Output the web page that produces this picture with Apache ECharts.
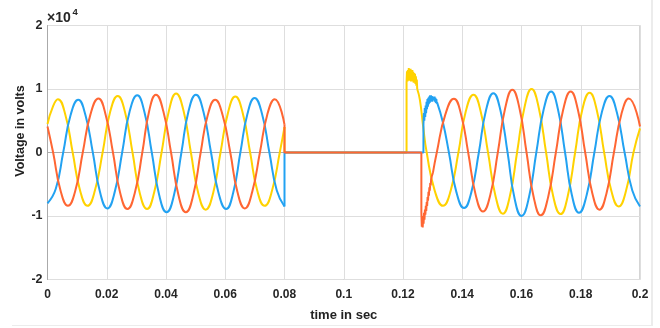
<!DOCTYPE html>
<html>
<head>
<meta charset="utf-8">
<script src="https://cdn.jsdelivr.net/npm/echarts@6/dist/echarts.min.js"></script>
<style>
html,body{margin:0;padding:0;background:#fff;}
#c{width:660px;height:328px;}
</style>
</head>
<body>
<div id="c"></div>
<script>
// ---- data (time in s, voltage in units of 1e4 V) ----
const xTickLabels = ['0','0.02','0.04','0.06','0.08','0.1','0.12','0.14','0.16','0.18','0.2'];
const yTickLabels = ['-2','-1','0','1','2'];

// Phase A (yellow), digitised about every 1/8 cycle, before the outage
const yellowA = [[0,0.45],[0.0018,0.72],[0.0035,0.84],[0.006,0.6],[0.0085,0],[0.011,-0.6],[0.0135,-0.84],[0.016,-0.6],[0.0186,0],[0.0211,0.63],[0.0237,0.89],[0.0262,0.63],[0.0287,0],[0.0311,-0.63],[0.0336,-0.89],[0.036,-0.63],[0.0385,0],[0.041,0.66],[0.0434,0.93],[0.0459,0.66],[0.0484,0],[0.0509,-0.64],[0.0534,-0.9],[0.0559,-0.64],[0.0584,0],[0.0609,0.62],[0.0634,0.88],[0.0659,0.62],[0.0684,0],[0.0708,-0.6],[0.0733,-0.84],[0.0758,-0.6],[0.0784,0],[0.08,0.4]];
// outage + reclosing surge
const yellowSurge = [[0.08,0.4],[0.08,0],[0.1212,0],[0.1212,1.1],[0.12135,1.28],[0.1215,1.12],[0.12165,1.3],[0.1218,1.15],[0.12195,1.33],[0.1221,1.13],[0.12225,1.3],[0.1224,1.17],[0.12255,1.32],[0.1227,1.12],[0.12285,1.28],[0.123,1.15],[0.12315,1.3],[0.1233,1.12],[0.12345,1.27],[0.1236,1.1],[0.12375,1.25],[0.1239,1.12],[0.12405,1.24],[0.1242,1.08],[0.12435,1.2],[0.1245,1.05],[0.12465,1.15],[0.1248,1.0]];
// after reclosing
const yellowB = [[0.1248,1.0],[0.1257,0.83],[0.1268,0.41],[0.128,0],[0.1307,-0.6],[0.1335,-0.84],[0.1361,-0.6],[0.1387,0],[0.1412,0.65],[0.1438,0.91],[0.1462,0.65],[0.1487,0],[0.1512,-0.68],[0.1537,-0.965],[0.1561,-0.68],[0.1585,0],[0.161,0.71],[0.1634,1.0],[0.1658,0.71],[0.1683,0],[0.1707,-0.69],[0.1732,-0.97],[0.1756,-0.69],[0.1781,0],[0.1805,0.67],[0.183,0.94],[0.1854,0.67],[0.1879,0],[0.1903,-0.6],[0.1928,-0.85],[0.1953,-0.6],[0.1978,0],[0.2,0.38]];

// Phase B (blue)
const blueA = [[0,-0.8],[0.0028,-0.57],[0.0053,0],[0.0078,0.59],[0.0104,0.83],[0.0128,0.59],[0.0153,0],[0.0177,-0.62],[0.0202,-0.88],[0.0227,-0.62],[0.0252,0],[0.0277,0.64],[0.0303,0.9],[0.0327,0.64],[0.0352,0],[0.0377,-0.67],[0.0402,-0.94],[0.0427,-0.67],[0.0452,0],[0.0476,0.65],[0.0501,0.91],[0.0526,0.65],[0.0552,0],[0.0577,-0.63],[0.0603,-0.89],[0.0627,-0.63],[0.0651,0],[0.0675,0.61],[0.0699,0.86],[0.0724,0.61],[0.0749,0],[0.0774,-0.6],[0.08,-0.85]];
const blueSurge = [[0.08,-0.85],[0.08,0],[0.1269,0],[0.1269,0.45],[0.12705,0.62],[0.1272,0.5],[0.12735,0.7],[0.1275,0.56],[0.12765,0.74],[0.1278,0.62],[0.12795,0.8],[0.1281,0.68],[0.12825,0.84],[0.1284,0.72],[0.12855,0.86],[0.1287,0.76],[0.12885,0.88],[0.129,0.78],[0.12915,0.9],[0.1293,0.8],[0.12945,0.9],[0.1296,0.8],[0.12975,0.89],[0.1299,0.8],[0.13005,0.88],[0.1302,0.82],[0.13035,0.88],[0.1305,0.82],[0.13065,0.88],[0.1308,0.8],[0.13095,0.86],[0.1311,0.78],[0.13125,0.84],[0.1314,0.77],[0.1315,0.79]];
const blueB = [[0.1315,0.79],[0.1335,0.47],[0.1355,0],[0.138,-0.62],[0.1406,-0.875],[0.1431,-0.62],[0.1456,0],[0.148,0.66],[0.1505,0.935],[0.1529,0.66],[0.1553,0],[0.1576,-0.71],[0.16,-1.0],[0.1625,-0.71],[0.165,0],[0.1675,0.68],[0.17,0.96],[0.1723,0.68],[0.1747,0],[0.177,-0.67],[0.1794,-0.95],[0.182,-0.67],[0.1846,0],[0.1871,0.63],[0.1897,0.89],[0.1922,0.63],[0.1948,0],[0.1974,-0.6],[0.2,-0.85]];

// Phase C (orange)
const orangeA = [[0,0.41],[0.0019,0],[0.0044,-0.6],[0.0069,-0.84],[0.0094,-0.6],[0.0119,0],[0.0145,0.6],[0.0172,0.85],[0.0196,0.6],[0.0221,0],[0.0245,-0.63],[0.027,-0.89],[0.0295,-0.63],[0.032,0],[0.0343,0.65],[0.0366,0.91],[0.0391,0.65],[0.0417,0],[0.0442,-0.67],[0.0467,-0.94],[0.0492,-0.67],[0.0517,0],[0.0541,0.59],[0.0566,0.83],[0.0591,0.59],[0.0617,0],[0.0641,-0.62],[0.0666,-0.88],[0.0691,-0.62],[0.0717,0],[0.0742,0.6],[0.0767,0.84],[0.08,0.44]];
const orangeSurge = [[0.08,0.44],[0.08,0],[0.1262,0],[0.1262,-0.95],[0.12635,-1.17],[0.1265,-1.0],[0.12665,-1.18],[0.1268,-1.02],[0.12695,-1.12],[0.1271,-0.95],[0.12725,-1.06],[0.1274,-0.9],[0.12755,-0.98],[0.1277,-0.84],[0.12785,-0.92],[0.128,-0.78],[0.12815,-0.84],[0.1283,-0.7],[0.12845,-0.76],[0.1286,-0.62],[0.12875,-0.68],[0.1289,-0.55],[0.12905,-0.6],[0.1292,-0.48],[0.12935,-0.52],[0.1295,-0.42],[0.12965,-0.45],[0.1298,-0.36],[0.12995,-0.38],[0.1301,-0.32]];
const orangeB = [[0.1301,-0.32],[0.1314,0],[0.1343,0.6],[0.1372,0.845],[0.1396,0.6],[0.142,0],[0.1445,-0.66],[0.147,-0.93],[0.1495,-0.66],[0.152,0],[0.1545,0.7],[0.1569,0.99],[0.1593,0.7],[0.1617,0],[0.1641,-0.7],[0.1665,-0.99],[0.169,-0.7],[0.1716,0],[0.1741,0.68],[0.1766,0.96],[0.179,0.68],[0.1815,0],[0.1839,-0.64],[0.1863,-0.9],[0.1887,-0.64],[0.1912,0],[0.1937,0.6],[0.1962,0.85],[0.2,0.41]];

const YELLOW = '#FFD200', BLUE = '#22A2F2', ORANGE = '#FF6633';
const FONT = '"Liberation Sans", Arial, Helvetica, sans-serif';

function mk(name, data, color, smooth) {
  return {
    name: name, type: 'line', data: data,
    smooth: smooth ? 0.5 : false,
    symbol: 'none', showSymbol: false,
    lineStyle: { color: color, width: 2 },
    itemStyle: { color: color },
    animation: false
  };
}

const chart = echarts.init(document.getElementById('c'), null, { renderer: 'canvas' });
chart.setOption({
  backgroundColor: '#fff',
  animation: false,
  grid: { left: 47.5, right: 20, top: 25.5, bottom: 48.5, show: true, borderColor: '#aaaaaa', borderWidth: 1, backgroundColor: 'transparent' },
  xAxis: {
    type: 'value', min: 0, max: 0.2, interval: 0.02,
    name: 'time in sec', nameLocation: 'middle', nameGap: 29,
    nameTextStyle: { fontFamily: FONT, fontWeight: 'bold', fontSize: 13, color: '#222' },
    axisLine: { show: true, lineStyle: { color: '#aaaaaa', width: 1 } },
    axisTick: { show: false },
    axisLabel: { margin: 9, fontFamily: FONT, fontWeight: 'bold', fontSize: 12, color: '#262626',
      formatter: function (v) { return xTickLabels[Math.round(v / 0.02)]; } },
    splitLine: { show: true, lineStyle: { color: '#dedede', width: 1 } }
  },
  yAxis: {
    type: 'value', min: -2, max: 2, interval: 1,
    axisLine: { show: true, lineStyle: { color: '#aaaaaa', width: 1 } },
    axisTick: { show: false },
    axisLabel: { margin: 5, fontFamily: FONT, fontWeight: 'bold', fontSize: 12.5, color: '#262626',
      formatter: function (v) { return yTickLabels[Math.round(v) + 2]; } },
    splitLine: { show: true, lineStyle: { color: '#dedede', width: 1 } }
  },
  graphic: [
    { type: 'text', x: 21, y: 131, rotation: Math.PI / 2,
      style: { text: 'Voltage in volts', fontFamily: FONT, fontWeight: 'bold', fontSize: 12.5, fill: '#222', align: 'center', verticalAlign: 'middle' } },
    { type: 'text', x: 47, y: 18.5,
      style: { text: '\u00d710', fontFamily: FONT, fontWeight: 'bold', fontSize: 14, fill: '#262626', align: 'left', verticalAlign: 'middle' } },
    { type: 'text', x: 72.5, y: 12.5,
      style: { text: '4', fontFamily: FONT, fontWeight: 'bold', fontSize: 9.5, fill: '#262626', align: 'left', verticalAlign: 'middle' } },
    { type: 'line', shape: { x1: 652, y1: 0, x2: 652, y2: 326 }, style: { stroke: '#ececec', lineWidth: 2 } },
    { type: 'line', shape: { x1: 12, y1: 325.5, x2: 652, y2: 325.5 }, style: { stroke: '#ececec', lineWidth: 1 } }
  ],
  series: [
    mk('A1', yellowA, YELLOW, true),
    mk('A2', yellowSurge, YELLOW, false),
    mk('A3', yellowB, YELLOW, true),
    mk('B1', blueA, BLUE, true),
    mk('B2', blueSurge, BLUE, false),
    mk('B3', blueB, BLUE, true),
    mk('C1', orangeA, ORANGE, true),
    mk('C2', orangeSurge, ORANGE, false),
    mk('C3', orangeB, ORANGE, true)
  ]
});
</script>
</body>
</html>
